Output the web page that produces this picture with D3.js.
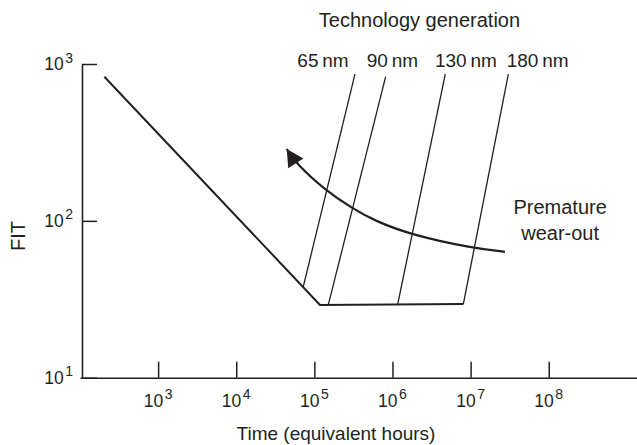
<!DOCTYPE html>
<html>
<head>
<meta charset="utf-8">
<script src="https://cdn.jsdelivr.net/npm/d3@7"></script>
<style>
  body { margin: 0; background: #fff; }
  svg { display: block; font-family: "Liberation Sans", Arial, Helvetica, sans-serif; }
</style>
</head>
<body>
<div id="chart"></div>
<script>
// bathtub curve (hours, FIT)
const bathtubHours = [205, 1.18e5, 8.07e6];
const bathtubFit = [830, 29.1, 29.5];

// wear-out lines per technology generation
const generations = ["65\u2009nm", "90\u2009nm", "130\u2009nm", "180\u2009nm"];
const wearStartHours = [7.21e4, 1.507e5, 1.167e6, 8.07e6];
const wearStartFit = [38.0, 29.1, 29.4, 29.5];
const wearEndHours = [3.31e5, 8.18e5, 4.74e6, 3.04e7];
const wearEndFit = [863, 830, 863, 863];

// "premature wear-out" arrow path
const arrowHours = [2.75e7, 1.08e7, 1.76e6, 5.97e5, 3.0e5, 1.37e5, 5.77e4, 4.43e4];
const arrowFit = [63.5, 66.8, 81.3, 99.8, 121, 157, 233, 287];

const xTicks = [1e3, 1e4, 1e5, 1e6, 1e7, 1e8];
const yTicks = [1e1, 1e2, 1e3];

const width = 637, height = 445;
const ink = "#231f20";

const x = d3.scaleLog().domain([1e2, 10 ** 9.13]).range([80, width]);
const y = d3.scaleLog().domain([10, 1000]).range([377.7, 64]);

const svg = d3.select("#chart").append("svg")
  .attr("width", width)
  .attr("height", height);

svg.append("defs").append("marker")
  .attr("id", "head")
  .attr("markerUnits", "userSpaceOnUse")
  .attr("viewBox", "-18 -10 20 20")
  .attr("refX", 0)
  .attr("refY", 0)
  .attr("markerWidth", 20)
  .attr("markerHeight", 20)
  .attr("orient", "auto")
  .append("path")
  .attr("d", "M0,0L-17,-9L-17,9Z")
  .attr("fill", ink);

// 10^n label with a superscript exponent
function powerLabel(text) {
  text.append("tspan").text("10");
  text.append("tspan")
    .attr("dx", 1.5)
    .attr("dy", -7.5)
    .attr("font-size", 14)
    .text((d) => Math.round(Math.log10(d)));
}

svg.append("g")
  .attr("transform", `translate(0,${y(10)})`)
  .call(d3.axisBottom(x).tickValues(xTicks).tickSizeInner(-16).tickSizeOuter(0).tickFormat(""))
  .call((g) => g.select(".domain").attr("stroke", ink).attr("stroke-width", 1.6))
  .call((g) => g.selectAll(".tick line").attr("stroke", ink).attr("stroke-width", 1.5));

svg.append("g")
  .attr("transform", `translate(82,0)`)
  .call(d3.axisLeft(y).tickValues(yTicks).tickSizeInner(-15).tickSizeOuter(0).tickFormat(""))
  .call((g) => g.select(".domain").attr("stroke", ink).attr("stroke-width", 1.6))
  .call((g) => g.selectAll(".tick line").attr("stroke", ink).attr("stroke-width", 1.5));

svg.append("g")
  .attr("font-size", 17.5)
  .attr("fill", ink)
  .selectAll("text")
  .data(xTicks)
  .join("text")
  .attr("x", (d) => x(d))
  .attr("y", y(10) + 29)
  .attr("text-anchor", "middle")
  .call(powerLabel);

svg.append("g")
  .attr("font-size", 17.5)
  .attr("fill", ink)
  .selectAll("text")
  .data(yTicks)
  .join("text")
  .attr("x", 73)
  .attr("y", (d) => y(d) + 6)
  .attr("text-anchor", "end")
  .call(powerLabel);

// axis titles
svg.append("text")
  .attr("x", 336)
  .attr("y", 440)
  .attr("text-anchor", "middle")
  .attr("font-size", 19)
  .attr("fill", ink)
  .text("Time (equivalent hours)");

svg.append("text")
  .attr("transform", "translate(25,236) rotate(-90)")
  .attr("text-anchor", "middle")
  .attr("font-size", 20)
  .attr("fill", ink)
  .text("FIT");

// bathtub curve
const line = d3.line().x((d) => x(d[0])).y((d) => y(d[1]));

svg.append("path")
  .datum(bathtubHours.map((h, i) => [h, bathtubFit[i]]))
  .attr("d", line)
  .attr("fill", "none")
  .attr("stroke", ink)
  .attr("stroke-width", 2)
  .attr("stroke-linejoin", "miter");

// wear-out lines
svg.append("g")
  .selectAll("line")
  .data(generations)
  .join("line")
  .attr("x1", (_, i) => x(wearStartHours[i]))
  .attr("y1", (_, i) => y(wearStartFit[i]))
  .attr("x2", (_, i) => x(wearEndHours[i]))
  .attr("y2", (_, i) => y(wearEndFit[i]))
  .attr("stroke", ink)
  .attr("stroke-width", 1.3);

// generation labels sit in a row above the lines
const labelAt = [1.29e5, 1.0e6, 8.7e6, 7.2e7];
svg.append("g")
  .selectAll("text")
  .data(generations)
  .join("text")
  .attr("x", (_, i) => x(labelAt[i]))
  .attr("y", 67)
  .attr("text-anchor", "middle")
  .attr("font-size", 19)
  .attr("fill", ink)
  .text((d) => d);

svg.append("text")
  .attr("x", 419.5)
  .attr("y", 27)
  .attr("text-anchor", "middle")
  .attr("font-size", 20)
  .attr("fill", ink)
  .text("Technology generation");

// premature wear-out arrow
svg.append("path")
  .datum(arrowHours.map((h, i) => [h, arrowFit[i]]))
  .attr("d", d3.line().x((d) => x(d[0])).y((d) => y(d[1])).curve(d3.curveBasis))
  .attr("fill", "none")
  .attr("stroke", ink)
  .attr("stroke-width", 2.2)
  .attr("marker-end", "url(#head)");

const note = svg.append("text")
  .attr("x", x(1.4e8))
  .attr("y", y(110))
  .attr("text-anchor", "middle")
  .attr("font-size", 20)
  .attr("fill", ink);
note.append("tspan").text("Premature");
note.append("tspan").attr("x", x(1.4e8)).attr("dy", 26).text("wear-out");
</script>
</body>
</html>
